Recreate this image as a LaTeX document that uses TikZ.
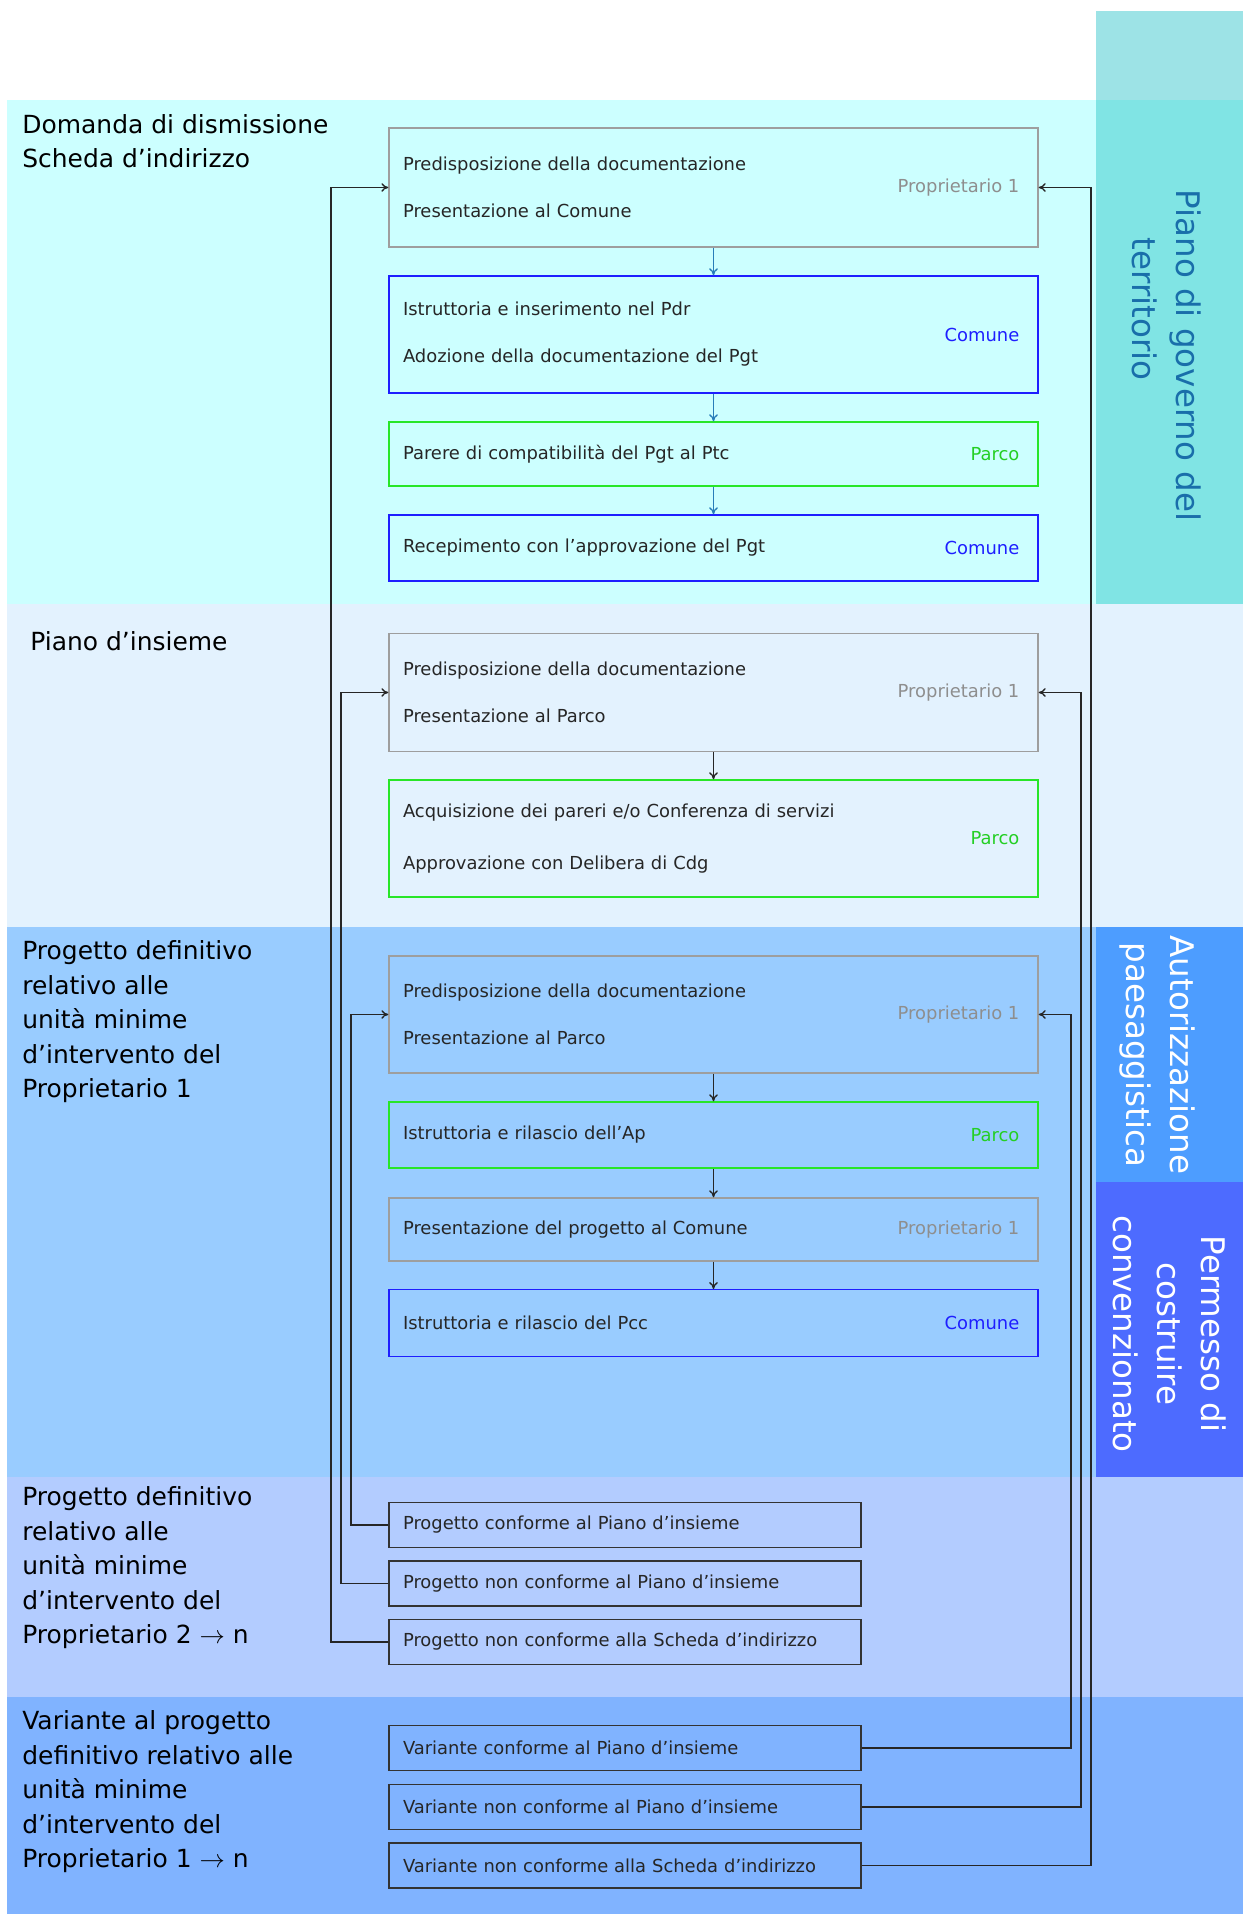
\documentclass[tikz,border=0pt]{standalone}
\usepackage{fontspec}
\setmainfont{DejaVu Sans}
\usepackage{xcolor}
\usetikzlibrary{arrows.meta, positioning}

\definecolor{fascia1}{RGB}{204,255,255}
\definecolor{fascia2}{RGB}{227,242,254}
\definecolor{fascia3}{RGB}{153,204,255}
\definecolor{fascia4}{RGB}{179,204,255}
\definecolor{fascia5}{RGB}{128,179,255}
\definecolor{colhead}{RGB}{157,227,230}
\definecolor{colpgt}{RGB}{128,228,228}
\definecolor{colap}{RGB}{77,157,255}
\definecolor{colpcc}{RGB}{77,107,255}
\definecolor{pianoblue}{RGB}{25,110,170}
\definecolor{propgray}{RGB}{158,158,158}
\definecolor{comuneblue}{RGB}{30,30,255}
\definecolor{parcogreen}{RGB}{40,230,40}
\definecolor{steel}{RGB}{40,125,185}

\newcommand{\boxfont}{\fontsize{10.2}{26.8}\selectfont}
\newcommand{\headfont}{\fontsize{14.2}{19.6}\selectfont}
\newcommand{\sidefont}{\fontsize{18.5}{25}\selectfont}

\begin{document}
\begin{tikzpicture}[
    >={To[length=4pt,width=5pt]},
    fase/.style={rectangle, draw, line width=0.75pt, text=black!85, font=\boxfont, text width=12.42cm, inner xsep=0.28cm, inner ysep=0pt, align=left},
    role/.style={anchor=east, inner xsep=0.38cm, inner ysep=0pt, font=\boxfont},
    prop/.style={fase, draw=propgray, label={[role, text=propgray!90!black]east:Proprietario 1}},
    comune/.style={fase, draw=comuneblue, label={[role, text=comuneblue]east:Comune}},
    parco/.style={fase, draw=parcogreen, label={[role, text=parcogreen!90!black]east:Parco}},
    caso/.style={rectangle, draw=black!80, line width=1.1pt, text=black!85, font=\boxfont, text width=8.88cm, inner xsep=0.28cm, inner ysep=0pt, minimum height=0.9cm, align=left},
    title/.style={anchor=west, inner sep=0pt, align=left, font=\headfont},
    side/.style={rotate=-90, inner sep=0pt, font=\sidefont},
    arrow/.style={->, line width=0.75pt, color=black!85}
]
\useasboundingbox (0,0) rectangle (24.9,38.28);

% Bands
\fill[fascia1] (0.14,26.2) rectangle (21.92,36.28);
\fill[colpgt] (21.92,26.2) rectangle (24.86,36.28);
\fill[colhead] (21.92,36.28) rectangle (24.86,38.06);
\fill[fascia2] (0.14,19.74) rectangle (24.86,26.2);
\fill[fascia3] (0.14,8.74) rectangle (21.92,19.74);
\fill[colap] (21.92,14.63) rectangle (24.86,19.74);
\fill[colpcc] (21.92,8.74) rectangle (24.86,14.63);
\fill[fascia4] (0.14,4.34) rectangle (24.86,8.74);
\fill[fascia5] (0.14,0) rectangle (24.86,4.34);

% Side labels
\node[side, text=pianoblue, align=left] (spgt) at (23.34,31.17) {Piano di governo del\\\hspace*{0.96cm}territorio};
\node[side, text=white, align=center] (sap) at (23.14,17.18) {Autorizzazione\\paesaggistica};
\node[side, text=white, align=center] (spcc) at (23.4,11.6) {Permesso di\\costruire\\convenzionato};

% Titles
\node[title] (tdom) at (0.44,35.45) {Domanda di dismissione\\Scheda d’indirizzo};
\node[title] (tpi) at (0.6,25.46) {Piano d’insieme};
\node[title] (tpd1) at (0.44,17.84) {Progetto definitivo\\relativo alle\\unità minime\\d’intervento del\\Proprietario 1};
\node[title] (tpd2) at (0.44,6.92) {Progetto definitivo\\relativo alle\\unità minime\\d’intervento del\\Proprietario 2 $\rightarrow$ n};
\node[title] (tvar) at (0.44,2.44) {Variante al progetto\\definitivo relativo alle\\unità minime\\d’intervento del\\Proprietario 1 $\rightarrow$ n};

% Domanda di dismissione
\node[prop, minimum height=2.38cm] (b1) at (14.27,34.53) {Predisposizione della documentazione\\Presentazione al Comune};
\node[comune, minimum height=2.34cm] (b2) at (14.27,31.59) {Istruttoria e inserimento nel Pdr\\Adozione della documentazione del Pgt};
\node[parco, minimum height=1.28cm] (b3) at (14.27,29.2) {Parere di compatibilità del Pgt al Ptc};
\node[comune, minimum height=1.32cm] (b4) at (14.27,27.32) {Recepimento con l’approvazione del Pgt};

% Piano d'insieme
\node[prop, minimum height=2.35cm] (c1) at (14.27,24.43) {Predisposizione della documentazione\\Presentazione al Parco};
\node[parco, minimum height=2.34cm] (c2) at (14.27,21.51) {Acquisizione dei pareri e/o Conferenza di servizi\\[3pt]Approvazione con Delibera di Cdg};

% Progetto definitivo
\node[prop, minimum height=2.34cm] (d1) at (14.27,17.99) {Predisposizione della documentazione\\Presentazione al Parco};
\node[parco, minimum height=1.32cm] (d2) at (14.27,15.58) {Istruttoria e rilascio dell’Ap};
\node[prop, minimum height=1.26cm] (d3) at (14.27,13.69) {Presentazione del progetto al Comune};
\node[comune, minimum height=1.33cm] (d4) at (14.27,11.82) {Istruttoria e rilascio del Pcc};

% Proprietario 2 -> n
\node[caso] (e1) at (12.5,7.78) {Progetto conforme al Piano d’insieme};
\node[caso] (e2) at (12.5,6.61) {Progetto non conforme al Piano d’insieme};
\node[caso] (e3) at (12.5,5.44) {Progetto non conforme alla Scheda d’indirizzo};

% Varianti
\node[caso] (f1) at (12.5,3.32) {Variante conforme al Piano d’insieme};
\node[caso] (f2) at (12.5,2.14) {Variante non conforme al Piano d’insieme};
\node[caso] (f3) at (12.5,0.97) {Variante non conforme alla Scheda d’indirizzo};

% Arrows down the steps
\draw[arrow, color=steel] (b1) -- (b2);
\draw[arrow, color=steel] (b2) -- (b3);
\draw[arrow, color=steel] (b3) -- (b4);
\draw[arrow] (c1) -- (c2);
\draw[arrow] (d1) -- (d2);
\draw[arrow] (d2) -- (d3);
\draw[arrow] (d3) -- (d4);

% Back to the start
\draw[arrow] (e3.west) -- ++(-1.14,0) |- (b1.west);
\draw[arrow] (e2.west) -- ++(-0.94,0) |- (c1.west);
\draw[arrow] (e1.west) -- ++(-0.74,0) |- (d1.west);
\draw[arrow] (f3.east) -- ++(4.58,0) |- (b1.east);
\draw[arrow] (f2.east) -- ++(4.38,0) |- (c1.east);
\draw[arrow] (f1.east) -- ++(4.18,0) |- (d1.east);

\end{tikzpicture}
\end{document}
